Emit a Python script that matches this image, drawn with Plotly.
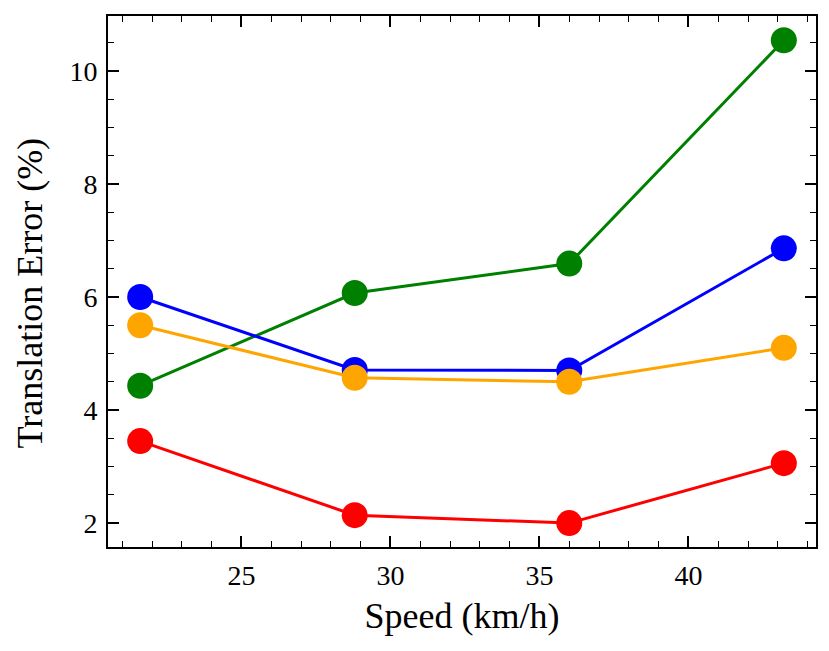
import plotly.graph_objects as go

# Speeds in km/h (6, 8, 10, 12 m/s)
speed = [21.6, 28.8, 36.0, 43.2]

# Translation error (%) per method
err_green = [4.43, 6.07, 6.59, 10.54]
err_blue = [6.00, 4.71, 4.70, 6.86]
err_orange = [5.50, 4.57, 4.50, 5.10]
err_red = [3.45, 2.14, 2.00, 3.06]

series = [
    (err_green, '#008000'),
    (err_blue, '#0000ff'),
    (err_orange, '#ffa500'),
    (err_red, '#ff0000'),
]

fig = go.Figure()
for vals, col in series:
    fig.add_trace(go.Scatter(
        x=speed, y=vals,
        mode='lines+markers',
        line=dict(color=col, width=3),
        marker=dict(color=col, size=26),
        showlegend=False,
    ))

axis_common = dict(
    showline=True, linecolor='black', linewidth=1.8, mirror='allticks',
    ticks='inside', ticklen=11, tickwidth=1.6, tickcolor='black',
    showgrid=False, zeroline=False,
    tickfont=dict(family='Liberation Serif', size=28, color='black'),
)

# page body has an 8px margin, so the figure is sized a bit smaller
fig.update_layout(
    width=821, height=643,
    margin=dict(l=100, r=13, t=6, b=104),
    plot_bgcolor='white', paper_bgcolor='white',
    xaxis=dict(
        range=[20.52, 44.28], dtick=5, tick0=0, ticklabelstandoff=2,
        minor=dict(ticks='inside', ticklen=6, tickwidth=1.4, dtick=1, tick0=0, tickcolor='black'),
        title=dict(text='Speed (km/h)', font=dict(family='Liberation Serif', size=36, color='black'), standoff=13),
        **axis_common,
    ),
    yaxis=dict(
        range=[1.577, 10.97], dtick=2, tick0=0, ticklabelstandoff=3,
        minor=dict(ticks='inside', ticklen=6, tickwidth=1.4, dtick=0.5, tick0=0, tickcolor='black'),
        **axis_common,
    ),
)

# y title placed by hand so it sits as far left as in the original
fig.add_annotation(
    text='Translation Error (%)', textangle=-90,
    xref='paper', yref='paper', x=0, y=0.5,
    xanchor='center', yanchor='middle', xshift=-79, yshift=-12,
    showarrow=False,
    font=dict(family='Liberation Serif', size=36, color='black'),
)

fig.write_html("out.html")
